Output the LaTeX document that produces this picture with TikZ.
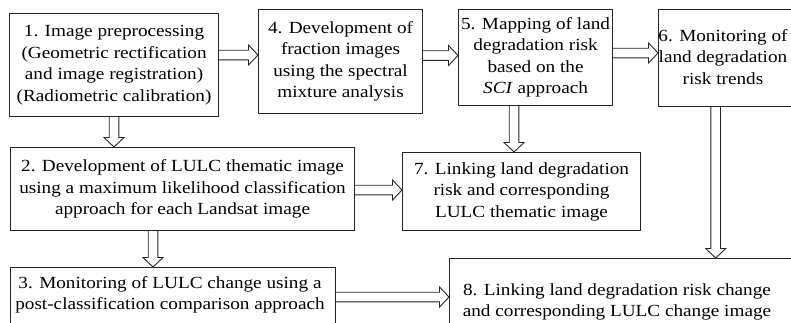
\documentclass[tikz,border=0pt]{standalone}
\usepackage{fontspec}
\setmainfont[FakeStretch=1.13]{Liberation Serif}
\usetikzlibrary{calc}
\newlength{\arrsw}\setlength{\arrsw}{4.8pt}
\newlength{\arrhw}\setlength{\arrhw}{10pt}
\newlength{\arrhl}\setlength{\arrhl}{9.5pt}
\newcommand{\harr}[2]{\draw[arrline] let \p1=#1, \p2=#2 in
  (\x1,\y1+\arrsw) -- (\x2-\arrhl,\y1+\arrsw) -- (\x2-\arrhl,\y1+\arrhw) -- (\x2,\y1)
  -- (\x2-\arrhl,\y1-\arrhw) -- (\x2-\arrhl,\y1-\arrsw) -- (\x1,\y1-\arrsw);}
\newcommand{\varr}[2]{\draw[arrline] let \p1=#1, \p2=#2 in
  (\x1-\arrsw,\y1) -- (\x1-\arrsw,\y2+\arrhl) -- (\x1-\arrhw,\y2+\arrhl) -- (\x1,\y2)
  -- (\x1+\arrhw,\y2+\arrhl) -- (\x1+\arrsw,\y2+\arrhl) -- (\x1+\arrsw,\y1);}
\begin{document}
\begin{tikzpicture}[x=1pt,y=-1pt,
  box/.style={draw=black!85, line width=1.1pt, inner sep=0pt, anchor=north west,
    align=center, font=\fontsize{17}{21.5}\selectfont},
  txt/.style={inner sep=0pt, align=center, font=\fontsize{17}{21.5}\selectfont},
  arrline/.style={draw=black!85, line width=0.9pt, line join=miter, fill=white}]
\useasboundingbox (0,0) rectangle (791,322);
\node[box, minimum width=209pt, minimum height=103pt] (b1) at (9,13)
  {1. Image preprocessing\\(Geometric rectification\\and image registration)\\(Radiometric calibration)};
\node[box, minimum width=164pt, minimum height=104pt] (b4) at (258,9)
  {4. Development of\\fraction images\\using the spectral\\mixture analysis};
\node[box, minimum width=154pt, minimum height=96pt] (b5) at (458,9)
  {5. Mapping of land\\degradation risk\\based on the\\\textit{SCI} approach};
\node[box, minimum width=140pt, minimum height=97pt] (b6) at (658,9) {};
\node[txt] (t6) at (723,57) {6. Monitoring of\\land degradation\\risk trends};
\node[box, minimum width=344pt, minimum height=83pt] (b2) at (10,147)
  {2. Development of LULC thematic image\\using a maximum likelihood classification\\approach for each Landsat image};
\node[box, minimum width=238pt, minimum height=78pt] (b7) at (402,152)
  {7. Linking land degradation\\risk and corresponding\\LULC thematic image};
\node[box, minimum width=325pt, minimum height=80pt] (b3) at (10,267) {};
\node[txt] (t3) at (170,295) {3. Monitoring of LULC change using a\\post-classification comparison approach};
\node[box, minimum width=360pt, minimum height=90pt] (b8) at (449,258) {};
\node[txt] (t8) at (617,302) {8. Linking land degradation risk change\\and corresponding LULC change image};
\harr{(b1.east |- 0,55)}{(b4.west |- 0,55)}
\harr{(b4.east |- 0,55.5)}{(b5.west |- 0,55.5)}
\harr{(b5.east |- 0,53)}{(b6.west |- 0,53)}
\harr{(b2.east |- 0,190)}{(b7.west |- 0,190)}
\harr{(b3.east |- 0,297)}{(b8.west |- 0,297)}
\varr{(b1.south -| 114,0)}{(b2.north -| 114,0)}
\varr{(b5.south -| 514,0)}{(b7.north -| 514,0)}
\varr{(b6.south -| 715.7,0)}{(b8.north -| 715.7,0)}
\varr{(b2.south -| 153,0)}{(b3.north -| 153,0)}
\end{tikzpicture}
\end{document}
